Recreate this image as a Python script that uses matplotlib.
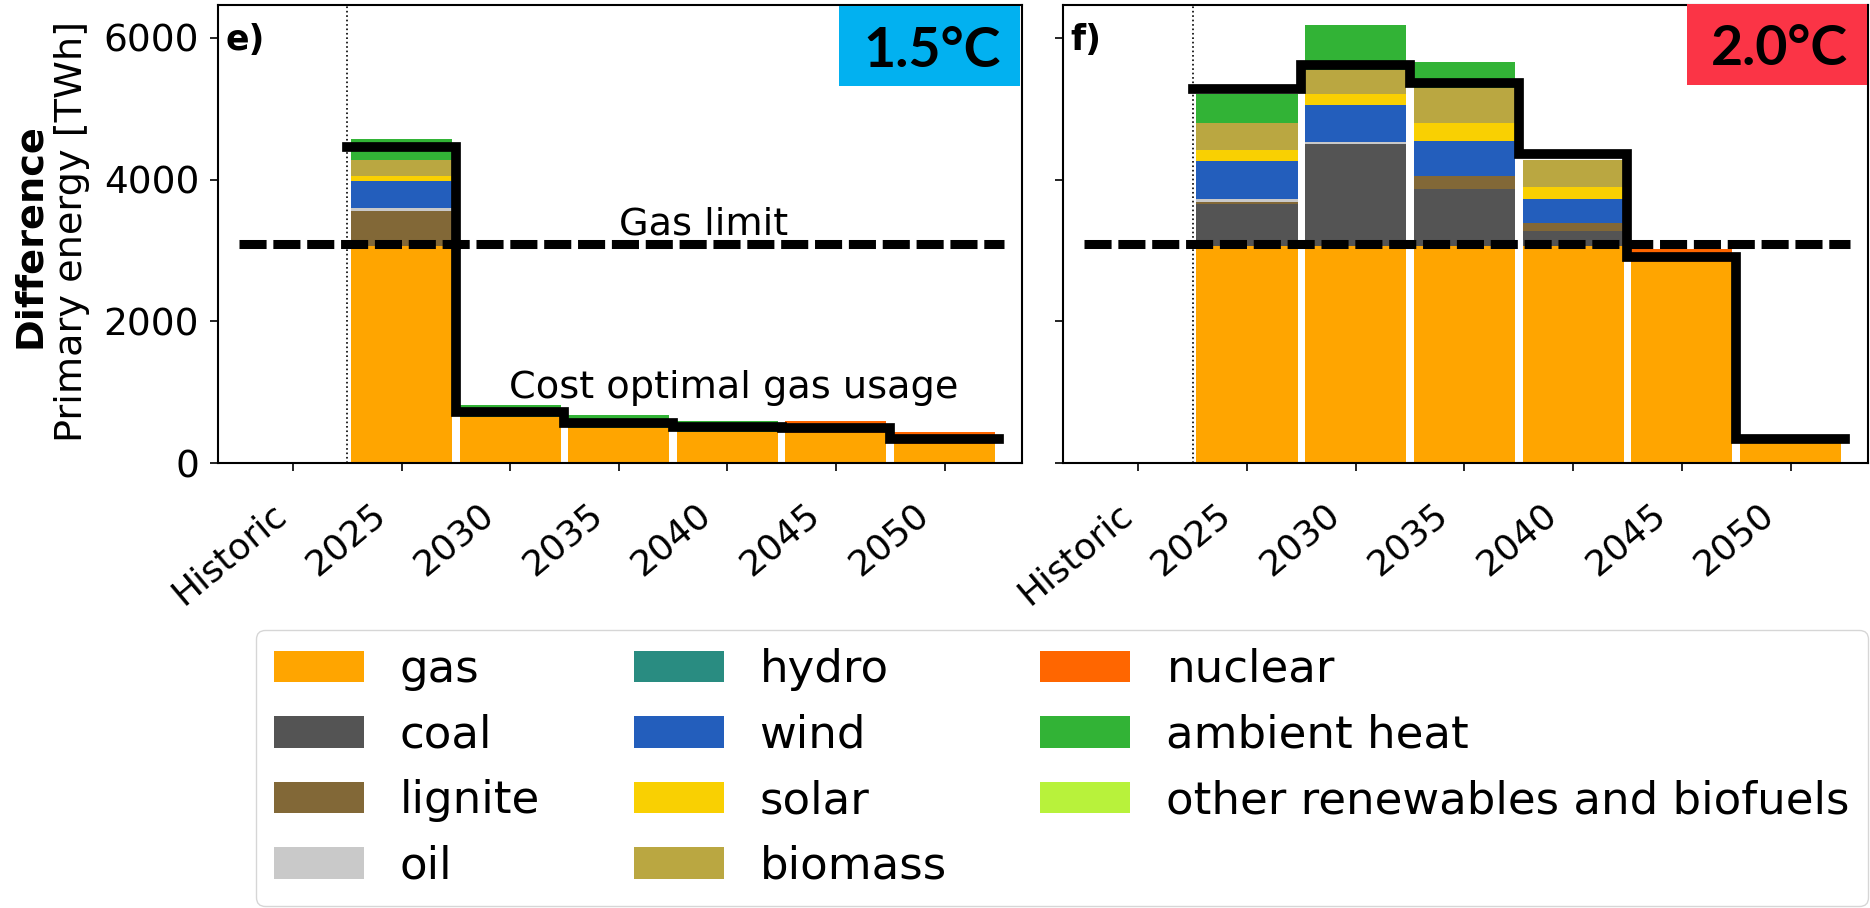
"""
Primary energy difference (stacked bars) for the 1.5°C and 2.0°C scenarios
"""

import matplotlib
matplotlib.use("Agg")
import matplotlib.pyplot as plt
from matplotlib.patches import Patch, Rectangle
from matplotlib.transforms import ScaledTranslation


# =========================
# 1. data (TWh)
# =========================
periods = ["Historic", "2025", "2030", "2035", "2040", "2045", "2050"]

carriers = ["gas", "coal", "lignite", "oil", "hydro", "wind", "solar",
            "biomass", "nuclear", "ambient heat",
            "other renewables and biofuels"]
colors = ["#ffa500", "#545454", "#826837", "#c9c9c9", "#298c81", "#235ebc",
          "#f9d002", "#baa741", "#ff6600", "#32b336", "#b8f23b"]

# 1.5°C scenario
gas_15 = [0, 3070, 650, 495, 447, 425, 270]
coal_15 = [0, 0, 0, 0, 0, 0, 0]
lignite_15 = [0, 493, 0, 0, 0, 0, 0]
oil_15 = [0, 33, 0, 0, 0, 0, 0]
hydro_15 = [0, 0, 0, 0, 0, 0, 0]
wind_15 = [0, 385, 0, 0, 0, 0, 0]
solar_15 = [0, 70, 0, 0, 0, 0, 0]
biomass_15 = [0, 226, 0, 0, 0, 0, 0]
nuclear_15 = [0, 0, 0, 0, 0, 170, 175]
ambient_15 = [0, 291, 170, 185, 150, 0, 0]
other_15 = [0, 0, 0, 0, 0, 0, 0]
line_15 = [4465, 719, 573, 517, 494, 343]

# 2.0°C scenario
gas_20 = [0, 3060, 3060, 3060, 3060, 2844, 282]
coal_20 = [0, 597, 1443, 808, 221, 0, 0]
lignite_20 = [0, 33, 0, 188, 103, 0, 0]
oil_20 = [0, 32, 28, 0, 0, 0, 0]
hydro_20 = [0, 0, 0, 0, 0, 0, 0]
wind_20 = [0, 546, 522, 480, 338, 0, 0]
solar_20 = [0, 150, 150, 258, 179, 0, 0]
biomass_20 = [0, 376, 343, 494, 376, 0, 0]
nuclear_20 = [0, 0, 0, 0, 0, 173, 0]
ambient_20 = [0, 409, 635, 366, 0, 0, 0]
other_20 = [0, 0, 0, 0, 0, 0, 0]
line_20 = [5281, 5617, 5358, 4362, 2905, 338]

gas_limit = 3090

stack_15 = [gas_15, coal_15, lignite_15, oil_15, hydro_15, wind_15,
            solar_15, biomass_15, nuclear_15, ambient_15, other_15]
stack_20 = [gas_20, coal_20, lignite_20, oil_20, hydro_20, wind_20,
            solar_20, biomass_20, nuclear_20, ambient_20, other_20]

W, H = 1870, 908
YTICK_FS = 27
XTICK_FS = 26
TEXT_FS = 27.5


def fx(px):
    return px / W


def fy(px):
    return 1 - px / H


# =========================
# 2. one panel
# =========================
def plot_panel(fig, ax, stack, line, letter):
    x = list(range(len(periods)))
    bottom = [0] * len(periods)
    for vals, c in zip(stack, colors):
        ax.bar(x, vals, width=0.93, bottom=bottom, color=c, linewidth=0)
        bottom = [b + v for b, v in zip(bottom, vals)]

    edges = [i + 0.5 for i in range(len(line) + 1)]
    ax.step(edges, line + [line[-1]], where="post", color="black", lw=7,
            solid_joinstyle="miter", zorder=4)

    ax.hlines(gas_limit, -0.5, 6.55, color="black", lw=6.5,
              linestyles=(0, (3.0, 0.75)), zorder=5)
    ax.axvline(0.5, color="black", lw=1.2, ls=":", zorder=3)

    ax.set_xlim(-0.69, 6.71)
    ax.set_ylim(0, 6460)
    ax.set_yticks([0, 2000, 4000, 6000])
    ax.set_xticks(x)
    ax.set_xticklabels([])
    ax.tick_params(labelsize=YTICK_FS, length=5.8, width=1.2, pad=7.7)
    for s in ax.spines.values():
        s.set_linewidth(1.5)

    # rotated period labels (offsets tuned by eye)
    for i, lab in enumerate(periods):
        dx = 0 if i == 0 else -7.2
        tr = ax.get_xaxis_transform() + ScaledTranslation(
            dx / 72, -24.3 / 72, fig.dpi_scale_trans)
        ax.text(i, 0, lab, transform=tr, rotation=40, ha="right", va="top",
                fontsize=XTICK_FS, clip_on=False)

    ax.text(0.009, 0.924, letter, transform=ax.transAxes, fontsize=25,
            fontweight="bold", ha="left", va="center")


def main():
    fig = plt.figure(figsize=(W / 100, H / 100), dpi=100)

    ax1 = fig.add_axes([fx(218), fy(463.3), fx(1021.7 - 218), (463.3 - 5) / H])
    ax2 = fig.add_axes([fx(1063.3), fy(463.3), fx(1867.7 - 1063.3), (463.3 - 5) / H])

    plot_panel(fig, ax1, stack_15, line_15, "e)")
    plot_panel(fig, ax2, stack_20, line_20, "f)")
    ax2.set_yticklabels([])

    ax1.text(3.78, 3219, "Gas limit", fontsize=TEXT_FS, ha="center",
             va="baseline", zorder=6)
    ax1.text(4.06, 920, "Cost optimal gas usage", fontsize=TEXT_FS,
             ha="center", va="baseline", zorder=6)

    # y label in two lines
    fig.text(fx(30), fy(236), "Difference", rotation=90, fontsize=TEXT_FS,
             fontweight="bold", ha="center", va="center")
    fig.text(fx(72), fy(232), "Primary energy [TWh]", rotation=90,
             fontsize=TEXT_FS, ha="center", va="center")

    # scenario boxes
    for (x0, x1, y0, y1), col, label, tx, ty in [
        ((839.3, 1020, 6, 86), "#02b1f0", "1.5°C", 931.7, 67),
        ((1686.7, 1867.3, 4, 85), "#fb3446", "2.0°C", 1779, 65),
    ]:
        fig.patches.append(Rectangle((fx(x0), fy(y1)), fx(x1 - x0), (y1 - y0) / H,
                                     transform=fig.transFigure, facecolor=col,
                                     edgecolor="none", zorder=10))
        fig.text(fx(tx), fy(ty), label, fontsize=40, fontweight="bold",
                 family="Lato", ha="center", va="baseline", zorder=11)

    handles = [Patch(facecolor=c) for c in colors]
    fig.legend(handles, carriers, ncol=3, loc="upper left",
               bbox_to_anchor=(fx(255.7), fy(630)), borderaxespad=0,
               fontsize=32.4, columnspacing=2.08)

    fig.savefig("out.png", dpi=100)


if __name__ == "__main__":
    main()
